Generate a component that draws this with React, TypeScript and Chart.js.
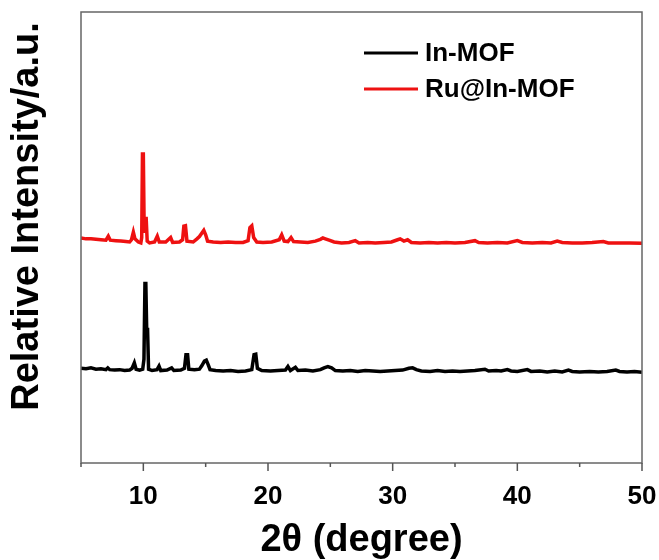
import React, { useEffect, useRef } from "react";
import { Chart, registerables } from "chart.js";

Chart.register(...registerables);

const X_MIN = 5;
const X_MAX = 50;
const X_STEP = 5;
const X_LABELED = [10, 20, 30, 40, 50];
const Y_MIN = 0;
const Y_MAX = 1000;
const SERIES_LABELS = ["In-MOF", "Ru@In-MOF"];
const SERIES_COLORS = ["#000000", "#ee1111"];
const X_TITLE = "2θ (degree)";
const Y_TITLE = "Relative Intensity/a.u.";
const FONT = "'Liberation Sans', Arial, Helvetica, sans-serif";

// In-MOF (black)
const inMofTheta = [
  5.0, 5.4, 5.8, 6.2, 6.6, 7.0, 7.15, 7.3, 7.7, 8.1, 8.5, 8.9, 9.1, 9.28, 9.42, 9.7, 9.95,
  10.05, 10.13, 10.2, 10.27, 10.34, 10.42, 10.7, 11.1, 11.26, 11.4, 11.9, 12.27, 12.45,
  13.0, 13.3, 13.42, 13.55, 13.65, 14.1, 14.5, 14.7, 14.9, 15.05, 15.2, 15.35, 15.8, 16.4,
  17.0, 17.6, 18.2, 18.7, 18.88, 19.02, 19.15, 19.5, 20.2, 20.8, 21.4, 21.6, 21.8, 22.2,
  22.4, 23.0, 23.6, 24.2, 24.5, 24.8, 25.1, 25.4, 26.0, 26.6, 27.2, 27.8, 28.4, 29.0, 29.6,
  30.2, 30.8, 31.3, 31.6, 31.9, 32.3, 33.0, 33.6, 34.2, 34.8, 35.4, 36.0, 36.6, 37.4, 37.7,
  38.3, 38.7, 39.2, 39.5, 40.0, 40.8, 41.1, 41.8, 42.4, 43.0, 43.6, 44.1, 44.4, 45.0, 45.8,
  46.5, 47.2, 47.9, 48.2, 48.8, 49.4, 50.0,
];
const inMofIntensity = [
  210, 209, 211, 208, 209, 207, 211, 207, 206, 207, 205, 206, 210, 222, 208, 206, 208,
  230, 398, 398, 296, 296, 208, 205, 207, 215, 205, 206, 211, 205,
  206, 210, 240, 240, 208, 207, 208, 216, 226, 228, 218, 207, 205, 204,
  205, 203, 204, 207, 240, 241, 210, 205, 204, 205, 206, 214, 205, 212,
  205, 206, 204, 207, 211, 214, 211, 205, 204, 205, 203, 205, 204, 203, 204,
  205, 206, 210, 211, 207, 204, 203, 205, 203, 204, 203, 204, 205, 208, 204,
  205, 204, 207, 204, 203, 207, 203, 204, 202, 204, 202, 206, 203, 202, 203,
  202, 203, 206, 203, 202, 203, 201,
];

// Ru@In-MOF (red)
const ruTheta = [
  5.0, 5.4, 5.8, 6.2, 6.6, 7.0, 7.19, 7.35, 7.8, 8.2, 8.6, 8.9, 9.05, 9.2, 9.33, 9.6, 9.8,
  9.87, 9.93, 10.0, 10.07, 10.14, 10.23, 10.31, 10.5, 10.9, 11.12, 11.28, 11.8, 12.19, 12.35,
  12.9, 13.15, 13.25, 13.38, 13.5, 14.0, 14.3, 14.5, 14.7, 14.85, 15.0, 15.15, 15.6, 16.2,
  16.8, 17.4, 18.0, 18.4, 18.55, 18.7, 18.85, 19.1, 19.6, 20.3, 20.9, 21.1, 21.3, 21.6,
  21.85, 22.05, 22.6, 23.2, 23.8, 24.2, 24.4, 24.6, 24.9, 25.3, 25.9, 26.5, 27.0, 27.3,
  28.0, 28.6, 29.3, 29.9, 30.4, 30.6, 30.9, 31.2, 31.5, 32.2, 32.9, 33.6, 34.3, 35.0, 35.8,
  36.6, 36.9, 37.6, 38.4, 39.2, 40.0, 40.4, 41.2, 42.0, 42.7, 43.2, 43.6, 44.4, 45.2, 46.0,
  46.9, 47.3, 48.2, 49.0, 50.0,
];
const ruIntensity = [
  499, 497, 497, 496, 495, 494, 503, 494, 493, 492, 491, 490, 495, 512, 497, 490, 488,
  500, 685, 685, 510, 542, 542, 492, 488, 490, 503, 490, 490, 500, 489,
  490, 495, 525, 526, 492, 490, 497, 502, 510, 516, 506, 492, 490, 489,
  490, 489, 489, 493, 522, 526, 500, 490, 489, 490, 495, 506, 492, 491,
  500, 491, 490, 489, 492, 496, 499, 497, 494, 490, 488, 489, 493, 488,
  489, 488, 489, 490, 495, 497, 492, 495, 489, 488, 489, 488, 489, 488, 489,
  493, 489, 488, 489, 488, 493, 489, 488, 489, 488, 492, 489, 488, 488, 489,
  491, 488, 488, 488, 487,
];

const toPoints = (xs: number[], ys: number[]) => xs.map((x, i) => ({ x, y: ys[i] }));

const extrasPlugin = {
  id: "extras",
  afterDraw(chart: any) {
    const { ctx, chartArea: a, scales } = chart;
    const x = scales.x;
    ctx.save();
    // frame
    ctx.strokeStyle = "#666666";
    ctx.lineWidth = 1.5;
    ctx.strokeRect(a.left, a.top, a.right - a.left, a.bottom - a.top);
    // x tick marks (major + minor)
    ctx.strokeStyle = "#555555";
    ctx.lineWidth = 1.5;
    for (const t of x.ticks) {
      const px = x.getPixelForValue(t.value);
      const len = X_LABELED.includes(t.value) ? 8 : 4;
      ctx.beginPath();
      ctx.moveTo(px, a.bottom);
      ctx.lineTo(px, a.bottom + len);
      ctx.stroke();
    }
    // y title
    ctx.fillStyle = "#000000";
    ctx.font = `bold 38px ${FONT}`;
    ctx.textAlign = "center";
    ctx.textBaseline = "middle";
    ctx.translate(a.left - 53, (a.top + a.bottom) / 2 - 21);
    ctx.rotate(-Math.PI / 2);
    ctx.fillText(Y_TITLE, 0, 0);
    ctx.restore();

    // legend
    ctx.save();
    ctx.font = `bold 26px ${FONT}`;
    ctx.textAlign = "left";
    ctx.textBaseline = "middle";
    chart.data.datasets.forEach((ds: any, i: number) => {
      const y = a.top + 41 + i * 36;
      const x0 = a.left + 283;
      ctx.strokeStyle = ds.borderColor;
      ctx.lineWidth = 3;
      ctx.beginPath();
      ctx.moveTo(x0, y);
      ctx.lineTo(x0 + 54, y);
      ctx.stroke();
      ctx.fillStyle = "#000000";
      ctx.fillText(ds.label, x0 + 61, y + 1);
    });
    ctx.restore();
  },
};

export default function App() {
  const canvasRef = useRef<HTMLCanvasElement | null>(null);

  useEffect(() => {
    document.body.style.margin = "0";
    const canvas = canvasRef.current;
    if (!canvas) return;
    const chart = new Chart(canvas, {
      type: "line",
      data: {
        datasets: [
          {
            label: SERIES_LABELS[0],
            data: toPoints(inMofTheta, inMofIntensity),
            borderColor: SERIES_COLORS[0],
            borderWidth: 3.5,
            pointRadius: 0,
            tension: 0,
            fill: false,
          },
          {
            label: SERIES_LABELS[1],
            data: toPoints(ruTheta, ruIntensity),
            borderColor: SERIES_COLORS[1],
            borderWidth: 3.5,
            pointRadius: 0,
            tension: 0,
            fill: false,
          },
        ],
      },
      options: {
        responsive: false,
        animation: false,
        devicePixelRatio: 1,
        layout: { padding: { top: 12, right: 17, left: 0, bottom: 0 } },
        plugins: {
          legend: { display: false },
          tooltip: { enabled: false },
          title: { display: false },
        },
        scales: {
          x: {
            type: "linear",
            min: X_MIN,
            max: X_MAX,
            grid: { display: false },
            border: { display: false },
            ticks: {
              stepSize: X_STEP,
              autoSkip: false,
              maxRotation: 0,
              padding: 10,
              color: "#000000",
              font: { family: FONT, size: 26, weight: "bold" },
              callback: (v: any) => (X_LABELED.includes(Number(v)) ? String(v) : ""),
            },
            title: {
              display: true,
              text: X_TITLE,
              color: "#000000",
              font: { family: FONT, size: 38, weight: "bold", lineHeight: 1 },
              padding: 0,
            },
            afterFit: (s: any) => {
              s.height = 97;
              s.paddingLeft = 0;
              s.paddingRight = 0;
            },
          },
          y: {
            type: "linear",
            min: Y_MIN,
            max: Y_MAX,
            grid: { display: false },
            border: { display: false },
            ticks: { display: false },
            title: { display: false },
            afterFit: (s: any) => {
              s.width = 81;
              s.paddingTop = 0;
              s.paddingBottom = 0;
            },
          },
        },
      },
      plugins: [extrasPlugin],
    });
    return () => chart.destroy();
  }, []);

  return (
    <div style={{ position: "absolute", left: 0, top: 0, width: 659, height: 560 }}>
      <canvas ref={canvasRef} width={659} height={560} style={{ display: "block" }} />
    </div>
  );
}
